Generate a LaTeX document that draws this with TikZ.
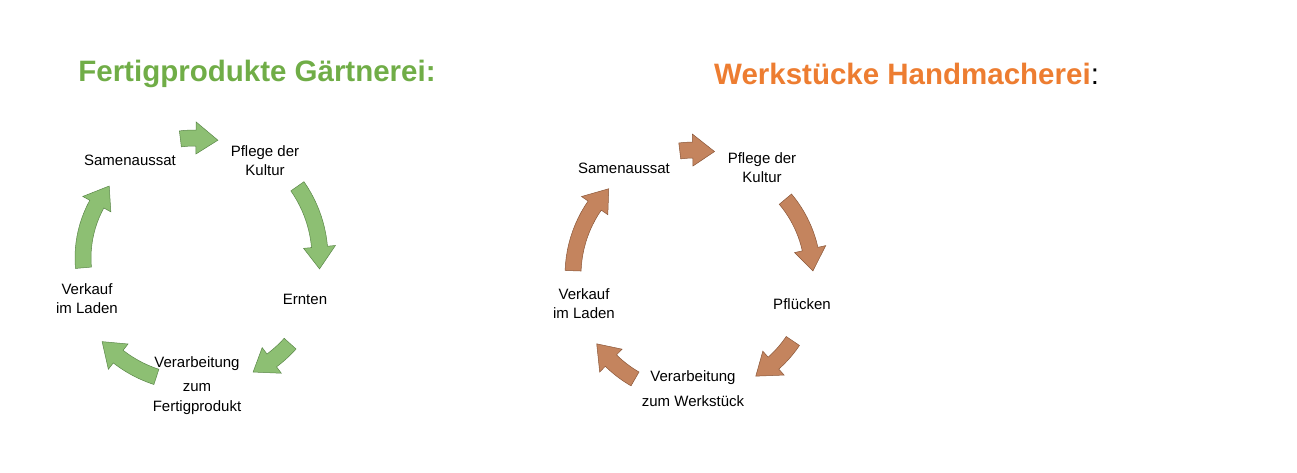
\documentclass[tikz,border=0pt]{standalone}
\usepackage{fontspec}
\setmainfont{Liberation Sans}
\definecolor{gfill}{HTML}{8DBF73}\definecolor{gline}{HTML}{5A8748}
\definecolor{ofill}{HTML}{C4845E}\definecolor{oline}{HTML}{8A5638}
\definecolor{gtitle}{HTML}{70AD47}\definecolor{otitle}{HTML}{ED7D31}
\newcommand\carrow[6]{% cx cy r a1 a2 style
  \pgfmathsetmacro\ah{#5-22/#3*57.3}
  \draw[#6] plot[domain=#4:\ah,samples=12] ({#1+(#3+8)*cos(\x)},{#2+(#3+8)*sin(\x)})
    -- ({#1+(#3+16)*cos(\ah)},{#2+(#3+16)*sin(\ah)})
    -- ({#1+#3*cos(#5)},{#2+#3*sin(#5)})
    -- ({#1+(#3-16)*cos(\ah)},{#2+(#3-16)*sin(\ah)})
    -- plot[domain=\ah:#4,samples=12] ({#1+(#3-8)*cos(\x)},{#2+(#3-8)*sin(\x)}) -- cycle;}
\begin{document}
\begin{tikzpicture}[x=1pt,y=-1pt,
  lbl/.style={font=\fontsize{15}{19}\selectfont,align=center},
  ttl/.style={font=\fontsize{29.5}{33}\selectfont\bfseries},
  ga/.style={fill=gfill,draw=gline,line width=0.5pt},
  oa/.style={fill=ofill,draw=oline,line width=0.5pt}]
\useasboundingbox (0,0) rectangle (1297,473);
% titles
\node[ttl,text=gtitle] (t1) at (257,74) {Fertigprodukte Gärtnerei:};
\node[ttl,anchor=west,inner sep=0pt] (t2) at (714,74) {\textcolor{otitle}{Werkstücke Handmacherei}\mdseries:};
% green cycle
\carrow{195}{258}{120}{-97}{-79}{ga}
\carrow{195}{258}{125}{-35}{5}{ga}
\carrow{195}{258}{128}{42}{63}{ga}
\carrow{195}{258}{125}{108}{138}{ga}
\carrow{195}{258}{112}{175}{220}{ga}
\node[lbl] (g1) at (130,160) {Samenaussat};
\node[lbl] (g2) at (265,161) {Pflege der\\Kultur};
\node[lbl] (g3) at (305,299) {Ernten};
\node[lbl] (g4) at (197,364) {Verarbeitung};
\node[lbl] (g4b) at (197,388) {zum};
\node[lbl] (g4c) at (197,408) {Fertigprodukt};
\node[lbl] (g5) at (87,299) {Verkauf\\im Laden};
% orange cycle
\carrow{695}{275}{125}{-97}{-81}{oa}
\carrow{695}{275}{118}{-40}{-2}{oa}
\carrow{695}{275}{118}{34}{59}{oa}
\carrow{695}{275}{120}{120}{145}{oa}
\carrow{695}{275}{122}{182}{225}{oa}
\node[lbl] (o1) at (624,168) {Samenaussat};
\node[lbl] (o2) at (762,168) {Pflege der\\Kultur};
\node[lbl] (o3) at (802,304) {Pflücken};
\node[lbl] (o4) at (693,378) {Verarbeitung};
\node[lbl] (o4b) at (693,401) {zum Werkstück};
\node[lbl] (o5) at (584,304) {Verkauf\\im Laden};
\end{tikzpicture}
\end{document}
